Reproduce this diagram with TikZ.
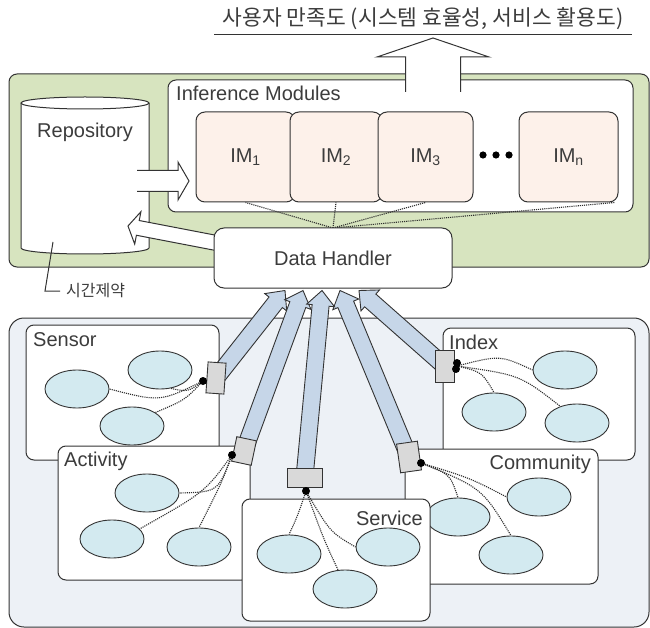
\documentclass[tikz,border=0pt]{standalone}
\usepackage{fontspec}
\setmainfont{Liberation Sans}
\newfontfamily\krfont{Noto Sans CJK KR}
\usetikzlibrary{shapes.geometric,calc}

\definecolor{panelgreen}{HTML}{D7E4BF}
\definecolor{panelblue}{HTML}{EDF1F6}
\definecolor{modfill}{HTML}{FDF1EA}
\definecolor{nodecyan}{HTML}{D3EAF0}
\definecolor{flowblue}{HTML}{C6D6E8}
\definecolor{portgray}{HTML}{D9D9D9}
\definecolor{ink}{HTML}{333333}
\definecolor{txt}{HTML}{3C3C3C}

% block arrow: style, tail, tip, half shaft width, half head width, head length
% the tail end is left open
\newcommand\blockarrow[6]{%
  \coordinate (ba-n) at ($(#3)!#6!(#2)$);
  \path[#1,draw=none] ($(#2)!#4!90:(#3)$) -- ($(ba-n)!#4!90:(#3)$) -- ($(ba-n)!#5!90:(#3)$) -- (#3)
     -- ($(ba-n)!#5!-90:(#3)$) -- ($(ba-n)!#4!-90:(#3)$) -- ($(#2)!#4!-90:(#3)$) -- cycle;
  \path[#1,fill=none] ($(#2)!#4!90:(#3)$) -- ($(ba-n)!#4!90:(#3)$) -- ($(ba-n)!#5!90:(#3)$) -- (#3)
     -- ($(ba-n)!#5!-90:(#3)$) -- ($(ba-n)!#4!-90:(#3)$) -- ($(#2)!#4!-90:(#3)$);
}

\tikzset{
  outer/.style={draw=ink, line width=1pt, rounded corners=8pt},
  box/.style={draw=ink, fill=white, line width=1pt, rounded corners=8pt},
  module/.style={draw=ink, fill=modfill, line width=1pt, rounded corners=9pt,
    minimum height=90pt, inner sep=0pt},
  blob/.style={ellipse, draw=ink, fill=nodecyan, line width=0.9pt,
    minimum width=64pt, minimum height=38pt, inner sep=0pt},
  link/.style={draw=ink!90!black, densely dotted, line width=1.1pt},
  port/.style={draw=ink, fill=portgray, line width=0.9pt, inner sep=0pt},
  joint/.style={circle, fill=black, inner sep=0pt, minimum size=8pt},
  flow/.style={draw=ink, fill=flowblue, line width=0.9pt, line join=miter},
  hollow/.style={draw=ink, fill=white, line width=1pt, line join=miter},
  lbl/.style={inner sep=0pt},
}

\begin{document}
\begin{tikzpicture}[x=1pt,y=-1pt, every node/.append style={text=txt},
  font=\fontsize{20}{23}\selectfont]
\useasboundingbox (0,0) rectangle (650,628);

% ---------- title ----------
\node[font=\krfont\fontsize{21.5}{25}\selectfont, anchor=base] (title) at (423,26)
  {사용자 만족도 (시스템 효율성, 서비스 활용도)};
\draw[ink, line width=1pt] (214,35) -- (632,35);

% ---------- inference layer ----------
\draw[outer, fill=panelgreen] (9,74) rectangle (649,267);
\draw[box] (168,80) rectangle (633,212);
\node[lbl, anchor=west] (imtitle) at (176,93) {Inference Modules};

% repository cylinder
\draw[hollow] (21,103) -- (21,248) arc[start angle=180, end angle=360, x radius=64pt, y radius=6pt] -- (149,103);
\draw[hollow] (85,103) ellipse[x radius=64pt, y radius=6pt];
\node[lbl] (repo) at (85,132) {Repository};

% inference modules
\node[module, minimum width=99pt] (im1) at (245.5,157) {IM\textsubscript{1}};
\node[module, minimum width=92pt] (im2) at (336,157) {IM\textsubscript{2}};
\node[module, minimum width=95pt] (im3) at (425.5,157) {IM\textsubscript{3}};
\node[module, minimum width=99pt] (imn) at (568.5,157) {IM\textsubscript{n}};
\fill[black] (483,155) circle[radius=3.6pt] (496,155) circle[radius=3.6pt] (509,155) circle[radius=3.6pt];

% output arrow
\coordinate (up-tail) at (433,92);
\coordinate (up-tip) at (433,38);
\blockarrow{hollow}{up-tail}{up-tip}{27.5pt}{56pt}{19pt}

% repository feeds the modules
\coordinate (ra-tail) at (137,181);
\coordinate (ra-tip) at (189,181);
\blockarrow{hollow}{ra-tail}{ra-tip}{10.5pt}{19pt}{11pt}

% data handler
\coordinate (dh-top) at (333,228);
\draw[link] (dh-top) -- (im1.south);
\draw[link] (dh-top) -- (im2.south);
\draw[link] (dh-top) -- (im3.south);
\draw[link] (dh-top) -- ($(imn.south)+(46,0)$);

\coordinate (la-tail) at (232,246);
\coordinate (la-tip) at (128,226);
\blockarrow{hollow}{la-tail}{la-tip}{7.5pt}{16.5pt}{10pt}

\node[box, minimum width=238pt, minimum height=60pt, rounded corners=10pt] (dh) at (333,258) {Data Handler};

% time constraint note
\node[lbl, font=\krfont\fontsize{16}{18}\selectfont, anchor=west] (tlimit) at (66,291) {시간제약};
\draw[ink, line width=1pt] (53,242) -- (45,291) -- ($(tlimit.west)+(-6,0)$);

% ---------- source layer ----------
\draw[outer, fill=panelblue, rounded corners=15pt] (9,318) rectangle (649,627);

% Sensor
\draw[box] (26,325) rectangle (219,460);
\node[lbl, anchor=west] (sensor) at (33,340) {Sensor};
\node[blob] (se1) at (77,389) {};
\node[blob] (se2) at (160,370) {};
\node[blob] (se3) at (132,426) {};
\coordinate (sd) at (203,381);
\draw[link] (sd) .. controls (160,402) .. (se1.east);
\draw[link] (sd) .. controls (188,392) .. (se2.-60);
\draw[link] (sd) .. controls (185,400) .. (se3.30);

% Index
\draw[box] (443,328) rectangle (635,460);
\node[lbl, anchor=west] (index) at (449,342) {Index};
\node[blob] (ie1) at (565,370) {};
\node[blob] (ie2) at (494,412) {};
\node[blob] (ie3) at (577,423) {};
\coordinate (id) at (457,366);
\draw[link] (id) .. controls (500,355) .. (ie1.west);
\draw[link] (id) .. controls (482,372) .. (ie2.north);
\draw[link] (id) .. controls (520,375) .. (ie3.135);

% Activity
\draw[box] (58,446) rectangle (250,580);
\node[lbl, anchor=west] (activity) at (64,461) {Activity};
\node[blob] (ae1) at (147,493) {};
\node[blob] (ae2) at (112,539) {};
\node[blob] (ae3) at (199,547) {};
\coordinate (ad) at (232,455);
\draw[link] (ad) .. controls (218,492) .. (ae1.east);
\draw[link] (ad) .. controls (205,492) .. (ae2.20);
\draw[link] (ad) .. controls (222,482) .. (ae3.north);

% Community
\draw[box] (405,449) rectangle (598,584);
\node[lbl, anchor=east] (community) at (591,464) {Community};
\node[blob] (ce1) at (539,497) {};
\node[blob] (ce2) at (458,517) {};
\node[blob] (ce3) at (511,555) {};
\coordinate (cd) at (421,463);
\draw[link] (cd) .. controls (470,478) .. (ce1.west);
\draw[link] (cd) .. controls (450,474) .. (ce2.north);
\draw[link] (cd) .. controls (482,488) .. (ce3.north);

% Service
\draw[box] (242,499) rectangle (430,621);
\node[lbl, anchor=east] (service) at (423,518) {Service};
\node[blob] (sv1) at (289,554) {};
\node[blob] (sv2) at (388,547) {};
\node[blob] (sv3) at (345,589) {};
\coordinate (vd) at (306,491);
\draw[link] (vd) .. controls (298,515) .. (sv1.north);
\draw[link] (vd) .. controls (330,532) .. (sv2.west);
\draw[link] (vd) .. controls (324,540) .. (sv3.110);

% ---------- flows into the data handler ----------
\coordinate (t1) at ($(dh.south)+(-48,2)$);
\coordinate (t2) at ($(dh.south)+(-30,2)$);
\coordinate (t3) at ($(dh.south)+(-11,2)$);
\coordinate (t4) at ($(dh.south)+(7,2)$);
\coordinate (t5) at ($(dh.south)+(26,2)$);

\coordinate (sp-c) at (216,378);
\coordinate (ap-c) at (244,451);
\coordinate (vp-c) at (304.5,477.5);
\coordinate (cp-c) at (409,457);
\coordinate (ip-c) at (444.5,366);

\blockarrow{flow}{sp-c}{t1}{8.5pt}{14pt}{15pt}
\blockarrow{flow}{ip-c}{t5}{8.5pt}{14pt}{15pt}
\blockarrow{flow}{ap-c}{t2}{8.5pt}{14pt}{15pt}
\blockarrow{flow}{cp-c}{t4}{8.5pt}{14pt}{15pt}
\blockarrow{flow}{vp-c}{t3}{8.5pt}{14pt}{15pt}

% ports
\node[port, minimum width=18pt, minimum height=31pt, rotate=-4] (sp) at (sp-c) {};
\node[port, minimum width=20pt, minimum height=25pt, rotate=-12] (ap) at (ap-c) {};
\node[port, minimum width=35pt, minimum height=19pt] (vp) at (vp-c) {};
\node[port, minimum width=21pt, minimum height=29pt, rotate=8] (cp) at (cp-c) {};
\node[port, minimum width=19pt, minimum height=32pt] (ip) at (ip-c) {};

% joints
\node[joint] (sj) at (sd) {};
\node[joint] (aj) at (ad) {};
\node[joint] (vj) at (vd) {};
\node[joint] (cj) at (cd) {};
\node[joint] (ij1) at (457,363) {};
\node[joint] (ij2) at (456,369) {};
\end{tikzpicture}
\end{document}
